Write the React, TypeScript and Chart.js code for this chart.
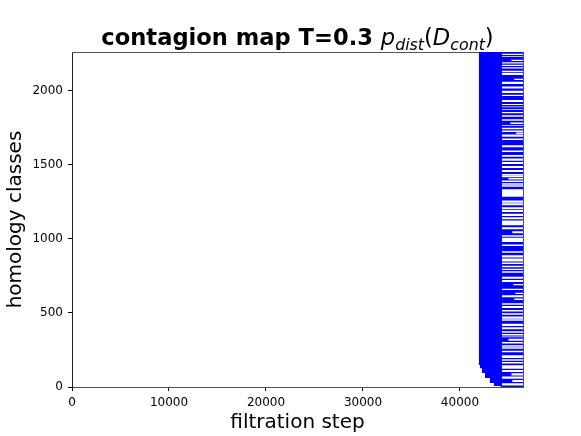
import React, { useEffect, useRef } from 'react';
import { Chart, registerables } from 'chart.js';

Chart.register(...registerables);

// ---- data ----
const xTicks = [0, 10000, 20000, 30000, 40000];
const yTicks = [0, 500, 1000, 1500, 2000];
const classCount = 2263;      // number of homology classes
const lastStep = 46500;       // last filtration step (long bars end here)
const shortDeath = 44330;     // where the early-dying classes end

// births: staircase (first class of each step, birth filtration step)
const birthFromClass = [0, 7, 27, 61, 95, 128, 149];
const birthStep = [44200, 43500, 43090, 42580, 42270, 42060, 41950];

// bands of classes that die before the last step: [fromClass, toClass, deathStep]
const S = shortDeath;
const earlyDeathBands: [number, number, number][] = [
  [11, 25, S], [34, 47, 45400], [56, 70, S], [79, 93, 45300], [101, 115, S],
  [124, 147, S], [160, 169, S], [178, 187, S], [196, 214, S], [236, 245, S],
  [259, 268, S], [272, 282, S], [295, 304, S], [313, 326, 45000], [336, 340, S],
  [349, 358, S], [367, 376, S], [390, 403, S], [412, 426, S], [448, 457, S],
  [462, 475, S], [489, 498, S], [511, 520, S], [534, 547, S], [556, 566, S],
  [588, 597, 45600], [606, 620, S], [628, 637, 45700], [655, 664, S], [687, 696, 45500],
  [709, 723, S], [732, 745, S], [772, 782, S], [791, 799, S], [809, 818, S],
  [831, 840, S], [849, 867, S], [876, 890, S], [908, 917, S], [953, 962, S],
  [980, 1007, S], [1016, 1025, S], [1039, 1052, 45400], [1066, 1079, S], [1093, 1124, S],
  [1133, 1147, S], [1155, 1169, S], [1182, 1196, S], [1201, 1214, S], [1228, 1241, S],
  [1245, 1259, S], [1286, 1336, S], [1354, 1363, S], [1367, 1376, S], [1385, 1394, S],
  [1403, 1412, 45000], [1417, 1426, S], [1430, 1439, S], [1453, 1466, S], [1480, 1493, S],
  [1507, 1520, S], [1529, 1543, S], [1556, 1566, S], [1588, 1597, S], [1620, 1633, S],
  [1669, 1678, S], [1691, 1705, S], [1710, 1718, 45800], [1723, 1732, S], [1741, 1750, S],
  [1764, 1768, S], [1777, 1786, 45200], [1799, 1809, S], [1826, 1836, S], [1849, 1858, S],
  [1872, 1876, S], [1890, 1894, S], [1905, 1912, S], [1926, 1939, S], [1966, 1973, S],
  [1987, 2000, S], [2017, 2030, S], [2047, 2061, S], [2074, 2081, 45600], [2108, 2122, S],
  [2128, 2135, S], [2152, 2159, S], [2169, 2176, S], [2186, 2193, S], [2203, 2210, 45300],
  [2230, 2233, S], [2243, 2250, S],
];

const titleMain = 'contagion map T=0.3';
const xTitle = 'filtration step';
const yTitle = 'homology classes';

// Outline of the union of all bars (birth -> death) as one closed shape
function buildOutline() {
  const pts: { x: number; y: number }[] = [];
  for (let i = 0; i < birthFromClass.length; i++) {
    const from = i === 0 ? 0 : birthFromClass[i] - 0.5;
    const to = i + 1 < birthFromClass.length ? birthFromClass[i + 1] - 0.5 : classCount;
    pts.push({ x: birthStep[i], y: from });
    pts.push({ x: birthStep[i], y: to });
  }
  pts.push({ x: lastStep, y: classCount });
  const bands = [...earlyDeathBands].sort((a, b) => b[0] - a[0]);
  for (const [a, b, d] of bands) {
    pts.push({ x: lastStep, y: b + 0.5 });
    pts.push({ x: d, y: b + 0.5 });
    pts.push({ x: d, y: a - 0.5 });
    pts.push({ x: lastStep, y: a - 0.5 });
  }
  pts.push({ x: lastStep, y: 0 });
  return pts;
}

const FONT = '"DejaVu Sans", "Liberation Sans", sans-serif';

const mathTitlePlugin = {
  id: 'mathTitle',
  afterDraw(chart: any) {
    const ctx: CanvasRenderingContext2D = chart.ctx;
    const area = chart.chartArea;
    const size = 22.6;
    const sub = size * 0.7;
    const pieces: { t: string; font: string; dy: number }[] = [
      { t: titleMain + ' ', font: `bold ${size}px ${FONT}`, dy: 0 },
      { t: 'p', font: `italic ${size}px ${FONT}`, dy: 0 },
      { t: 'dist', font: `italic ${sub}px ${FONT}`, dy: 5 },
      { t: '(', font: `${size}px ${FONT}`, dy: 0 },
      { t: 'D', font: `italic ${size}px ${FONT}`, dy: 0 },
      { t: 'cont', font: `italic ${sub}px ${FONT}`, dy: 5 },
      { t: ')', font: `${size}px ${FONT}`, dy: 0 },
    ];
    ctx.save();
    ctx.fillStyle = '#000';
    ctx.textBaseline = 'alphabetic';
    ctx.textAlign = 'left';
    let total = 0;
    const widths = pieces.map((p) => {
      ctx.font = p.font;
      const w = ctx.measureText(p.t).width;
      total += w;
      return w;
    });
    let x = (area.left + area.right) / 2 - total / 2;
    const baseY = 45;
    pieces.forEach((p, i) => {
      ctx.font = p.font;
      ctx.fillText(p.t, x, baseY + p.dy);
      x += widths[i];
    });
    ctx.restore();
  },
};

export default function App() {
  const ref = useRef<HTMLCanvasElement | null>(null);

  useEffect(() => {
    if (!ref.current) return;
    const tickFont = { family: FONT, size: 12 };
    const chart = new Chart(ref.current, {
      type: 'line',
      data: {
        datasets: [
          {
            data: buildOutline(),
            fill: 'shape',
            backgroundColor: '#0000ff',
            borderColor: 'rgba(0,0,0,0)',
            borderWidth: 0,
            pointRadius: 0,
            pointHoverRadius: 0,
            tension: 0,
          } as any,
        ],
      },
      options: {
        animation: false,
        responsive: false,
        events: [],
        layout: { padding: { left: 0, right: 58, top: 52, bottom: 0 } },
        plugins: {
          legend: { display: false },
          tooltip: { enabled: false },
          title: { display: false },
        },
        scales: {
          x: {
            type: 'linear',
            position: 'bottom',
            min: 0,
            max: lastStep,
            afterBuildTicks: (s: any) => {
              s.ticks = xTicks.map((v) => ({ value: v }));
            },
            afterFit: (s: any) => {
              s.height = 49;
            },
            ticks: {
              font: tickFont,
              color: '#000',
              padding: 5,
              maxRotation: 0,
              autoSkip: false,
              callback: (v: any) => String(v),
            },
            grid: { drawOnChartArea: false, drawTicks: true, tickLength: 4, tickColor: '#000', tickWidth: 1 },
            border: { display: true, color: '#555', width: 1 },
            title: { display: true, text: xTitle, color: '#000', font: { family: FONT, size: 20 }, padding: { top: 0, bottom: 1 } },
          },
          y: {
            type: 'linear',
            position: 'left',
            min: 0,
            max: classCount,
            afterBuildTicks: (s: any) => {
              s.ticks = yTicks.map((v) => ({ value: v }));
            },
            afterFit: (s: any) => {
              s.width = 72;
            },
            ticks: {
              font: tickFont,
              color: '#000',
              padding: 5,
              autoSkip: false,
              callback: (v: any) => String(v),
            },
            grid: { drawOnChartArea: false, drawTicks: true, tickLength: 4, tickColor: '#000', tickWidth: 1 },
            border: { display: true, color: '#222', width: 1 },
            title: { display: true, text: yTitle, color: '#000', font: { family: FONT, size: 20 }, padding: { top: 4, bottom: 0 } },
          },
          x2: {
            type: 'linear',
            position: 'top',
            min: 0,
            max: lastStep,
            ticks: { display: false },
            grid: { display: false, drawTicks: false },
            border: { display: true, color: '#555', width: 1 },
            afterFit: (s: any) => {
              s.height = 0;
            },
          },
          y2: {
            type: 'linear',
            position: 'right',
            min: 0,
            max: classCount,
            ticks: { display: false },
            grid: { display: false, drawTicks: false },
            border: { display: true, color: '#555', width: 1 },
            afterFit: (s: any) => {
              s.width = 0;
            },
          },
        },
      } as any,
      plugins: [mathTitlePlugin],
    });
    return () => chart.destroy();
  }, []);

  return (
    <div style={{ position: 'fixed', left: 0, top: 0, width: 581, height: 436, background: '#fff' }}>
      <canvas ref={ref} width={581} height={436} style={{ display: 'block' }} />
    </div>
  );
}
